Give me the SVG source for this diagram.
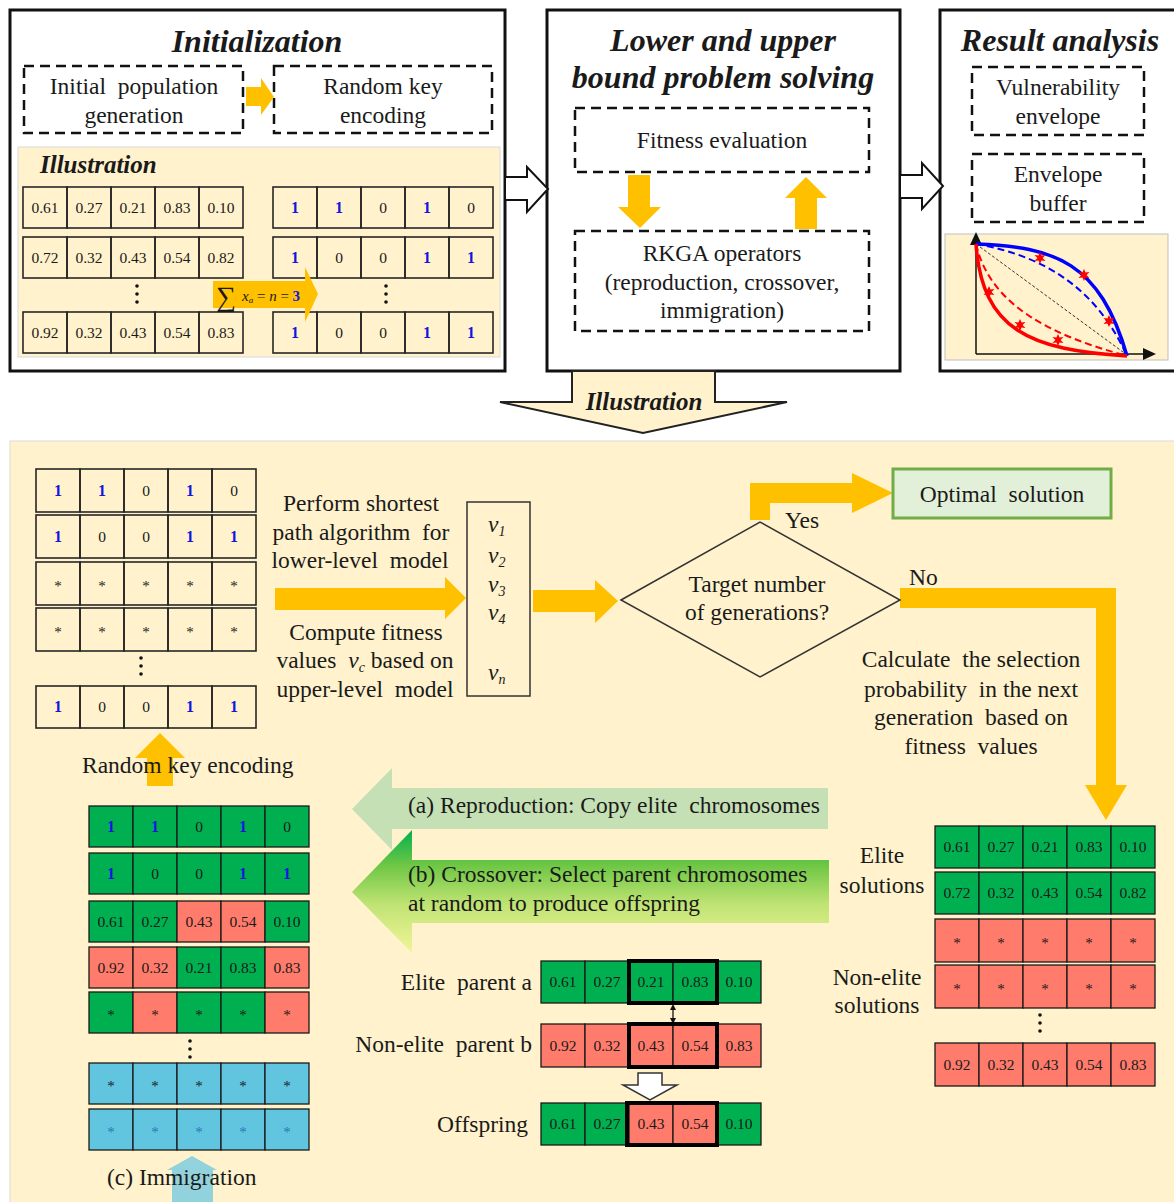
<svg xmlns="http://www.w3.org/2000/svg" width="1174" height="1202" viewBox="0 0 1174 1202">
<defs>
<style>
text{font-family:"Liberation Serif","Times New Roman",serif;fill:#1a1a1a;white-space:pre}
.ttl{font-size:32px;font-weight:bold;font-style:italic;text-anchor:middle}
.ill{font-size:25px;font-weight:bold;font-style:italic}
.b{font-size:23.5px}
.m{text-anchor:middle}
.e{text-anchor:end}
.box{fill:#fff;stroke:#111;stroke-width:3}
.dash{fill:none;stroke:#111;stroke-width:2.5;stroke-dasharray:10 6}
.or{fill:#FFC000}
.c{fill:none;stroke:#262626;stroke-width:1.6}
.g{fill:#00B050;stroke:#1a1a1a;stroke-width:1.3}
.r{fill:#FF7B6B;stroke:#1a1a1a;stroke-width:1.3}
.cy{fill:#61C5E0;stroke:#1a1a1a;stroke-width:1.3}
.n{font-size:15.5px;text-anchor:middle}
.one{font-size:16px;font-weight:bold;fill:#1515E0;text-anchor:middle}
.st{font-size:15px;text-anchor:middle}
.hol{fill:#fff;stroke:#111;stroke-width:2}
.bold{fill:none;stroke:#000;stroke-width:4}
.dot{fill:#111}
</style>
<linearGradient id="gb" x1="0" y1="0" x2="0" y2="1">
<stop offset="0" stop-color="#00B050"/>
<stop offset="0.28" stop-color="#6CC644"/>
<stop offset="0.6" stop-color="#BFE373"/>
<stop offset="1" stop-color="#F2F59A"/>
</linearGradient>
<polygon id="star" points="0,-6 1.6,-2.5 5.5,-3 2.6,0 5.5,3 1.6,2.5 0,6 -1.6,2.5 -5.5,3 -2.6,0 -5.5,-3 -1.6,-2.5" fill="#FF0000"/>
</defs>

<!-- panels -->
<g id="panel-init">
<rect class="box" x="10" y="10" width="495" height="361"/>
<text class="ttl" x="257" y="52">Initialization</text>
<rect class="dash" x="24" y="66" width="219" height="67"/>
<text class="b m" x="134" y="94">Initial  population</text>
<text class="b m" x="134" y="123">generation</text>
<rect class="dash" x="274" y="66" width="218" height="67"/>
<text class="b m" x="383" y="94">Random key</text>
<text class="b m" x="383" y="123">encoding</text>
<rect x="18" y="147" width="482" height="210" fill="#FFF2CC" stroke="#D9D9D9"/>
<text class="ill" x="40" y="173">Illustration</text>
</g>

<g id="grid-init-real">
<rect class="c" x="23" y="187" width="44" height="41"/><rect class="c" x="67" y="187" width="44" height="41"/><rect class="c" x="111" y="187" width="44" height="41"/><rect class="c" x="155" y="187" width="44" height="41"/><rect class="c" x="199" y="187" width="44" height="41"/>
<text class="n" x="45" y="213">0.61</text><text class="n" x="89" y="213">0.27</text><text class="n" x="133" y="213">0.21</text><text class="n" x="177" y="213">0.83</text><text class="n" x="221" y="213">0.10</text>
<rect class="c" x="23" y="237" width="44" height="41"/><rect class="c" x="67" y="237" width="44" height="41"/><rect class="c" x="111" y="237" width="44" height="41"/><rect class="c" x="155" y="237" width="44" height="41"/><rect class="c" x="199" y="237" width="44" height="41"/>
<text class="n" x="45" y="263">0.72</text><text class="n" x="89" y="263">0.32</text><text class="n" x="133" y="263">0.43</text><text class="n" x="177" y="263">0.54</text><text class="n" x="221" y="263">0.82</text>
<circle class="dot" cx="137" cy="286" r="1.8"/><circle class="dot" cx="137" cy="294" r="1.8"/><circle class="dot" cx="137" cy="302" r="1.8"/>
<rect class="c" x="23" y="312" width="44" height="41"/><rect class="c" x="67" y="312" width="44" height="41"/><rect class="c" x="111" y="312" width="44" height="41"/><rect class="c" x="155" y="312" width="44" height="41"/><rect class="c" x="199" y="312" width="44" height="41"/>
<text class="n" x="45" y="338">0.92</text><text class="n" x="89" y="338">0.32</text><text class="n" x="133" y="338">0.43</text><text class="n" x="177" y="338">0.54</text><text class="n" x="221" y="338">0.83</text>
</g>

<g id="grid-init-key">
<rect class="c" x="273" y="187" width="44" height="41"/><rect class="c" x="317" y="187" width="44" height="41"/><rect class="c" x="361" y="187" width="44" height="41"/><rect class="c" x="405" y="187" width="44" height="41"/><rect class="c" x="449" y="187" width="44" height="41"/>
<text class="one" x="295" y="213">1</text><text class="one" x="339" y="213">1</text><text class="n" x="383" y="213">0</text><text class="one" x="427" y="213">1</text><text class="n" x="471" y="213">0</text>
<rect class="c" x="273" y="237" width="44" height="41"/><rect class="c" x="317" y="237" width="44" height="41"/><rect class="c" x="361" y="237" width="44" height="41"/><rect class="c" x="405" y="237" width="44" height="41"/><rect class="c" x="449" y="237" width="44" height="41"/>
<text class="one" x="295" y="263">1</text><text class="n" x="339" y="263">0</text><text class="n" x="383" y="263">0</text><text class="one" x="427" y="263">1</text><text class="one" x="471" y="263">1</text>
<circle class="dot" cx="386" cy="286" r="1.8"/><circle class="dot" cx="386" cy="294" r="1.8"/><circle class="dot" cx="386" cy="302" r="1.8"/>
<rect class="c" x="273" y="312" width="44" height="41"/><rect class="c" x="317" y="312" width="44" height="41"/><rect class="c" x="361" y="312" width="44" height="41"/><rect class="c" x="405" y="312" width="44" height="41"/><rect class="c" x="449" y="312" width="44" height="41"/>
<text class="one" x="295" y="338">1</text><text class="n" x="339" y="338">0</text><text class="n" x="383" y="338">0</text><text class="one" x="427" y="338">1</text><text class="one" x="471" y="338">1</text>
</g>

<g id="panel-solve">
<rect class="box" x="547" y="10" width="353" height="361"/>
<text class="ttl" x="723" y="51">Lower and upper</text>
<text class="ttl" x="723" y="88">bound problem solving</text>
<rect class="dash" x="575" y="108" width="294" height="64"/>
<text class="b m" x="722" y="148">Fitness evaluation</text>
<rect class="dash" x="575" y="231" width="294" height="100"/>
<text class="b m" x="722" y="261">RKGA operators</text>
<text class="b m" x="722" y="290">(reproduction, crossover,</text>
<text class="b m" x="722" y="318">immigration)</text>
</g>

<g id="panel-result">
<rect class="box" x="940" y="10" width="240" height="361"/>
<text class="ttl" x="1060" y="51">Result analysis</text>
<rect class="dash" x="972" y="67" width="172" height="68"/>
<text class="b m" x="1058" y="95">Vulnerability</text>
<text class="b m" x="1058" y="124">envelope</text>
<rect class="dash" x="972" y="154" width="172" height="68"/>
<text class="b m" x="1058" y="182">Envelope</text>
<text class="b m" x="1058" y="211">buffer</text>
<rect x="945" y="234" width="223" height="126" fill="#FFF2CC" stroke="#BFBFBF"/>
<line x1="976" y1="354" x2="976" y2="242" stroke="#111" stroke-width="1.5"/>
<polygon points="976,232 970,245 982,245" fill="#111"/>
<line x1="976" y1="354" x2="1145" y2="354" stroke="#111" stroke-width="1.5"/>
<polygon points="1156,354 1143,348 1143,360" fill="#111"/>
<path d="M976,244 L1127,355" stroke="#333" stroke-width="1" stroke-dasharray="3 2" fill="none"/>
<path d="M976,244 C1040,255 1095,285 1127,356" stroke="#0000FF" stroke-width="2" stroke-dasharray="7 4" fill="none"/>
<path d="M976,244 C1055,247 1100,262 1127,356" stroke="#0000FF" stroke-width="3.5" fill="none"/>
<path d="M976,244 C990,305 1050,335 1127,356" stroke="#FF0000" stroke-width="2" stroke-dasharray="7 4" fill="none"/>
<path d="M976,244 C982,330 1030,350 1127,356" stroke="#FF0000" stroke-width="3.5" fill="none"/>
<use href="#star" x="1040" y="258"/><use href="#star" x="1084" y="275"/><use href="#star" x="1109" y="321"/>
<use href="#star" x="989" y="292"/><use href="#star" x="1020" y="325"/><use href="#star" x="1058" y="340"/>
</g>

<!-- bottom illustration panel -->
<g id="panel-bottom">
<rect x="10" y="441" width="1170" height="770" fill="#FFF2CC" stroke="#D9D9D9"/>
</g>

<g id="connectors">
<polygon class="or" points="246,87 261,87 261,78 274,97 261,115 261,106 246,106"/>
<polygon class="or" points="213,281 305,281 305,267 318,294 305,322 305,308 213,308"/>
<polygon class="hol" points="505,177 527,177 527,167 548,189 527,212 527,200 505,200"/>
<polygon class="hol" points="900,175 922,175 922,163 943,186 922,209 922,198 900,198"/>
<polygon class="or" points="628,175 650,175 650,207 661,207 640,228 618,207 628,207"/>
<polygon class="or" points="795,229 795,198 785,198 806,177 827,198 817,198 817,229"/>
<polygon points="572,371 715,371 715,402 787,402 643,433 500,402 572,402" fill="#FFF2CC" stroke="#222" stroke-width="2"/>
<polygon class="or" points="275,588 445,588 445,577 466,598 445,619 445,610 275,610"/>
<polygon class="or" points="533,590 595,590 595,580 618,601 595,623 595,612 533,612"/>
<polygon class="or" points="750,520 750,483 852,483 852,473 893,493 852,513 852,503 770,503 770,520"/>
<polygon class="or" points="900,588 1116,588 1116,785 1127,785 1106,820 1085,785 1096,785 1096,608 900,608"/>
<polygon class="or" points="160,733 185,758 173,758 173,786 147,786 147,758 135,758"/>
<polygon points="352,809 392,768 392,788 828,788 828,829 392,829 392,850" fill="#C5E0B4"/>
<polygon points="352,892 412,830 412,860 829,860 829,923 412,923 412,953" fill="url(#gb)"/>
<polygon points="192,1156 217,1170 213,1170 213,1202 172,1202 172,1170 167,1170" fill="#92D2DC"/>
<line x1="673" y1="1009" x2="673" y2="1019" stroke="#111" stroke-width="1.3"/>
<polygon points="673,1004 670,1010 676,1010" fill="#111"/>
<polygon points="673,1024 670,1018 676,1018" fill="#111"/>
<polygon points="638,1073 662,1073 662,1085 677,1085 650,1100 623,1085 638,1085" fill="#fff" stroke="#333" stroke-width="1.5"/>
</g>

<g id="labels-top">
<text x="216" y="306" font-size="28">∑</text>
<text x="242" y="301" font-size="15" font-style="italic">x<tspan font-size="9" dy="2">a</tspan><tspan dy="-2" font-style="normal"> = </tspan>n<tspan font-style="normal"> = </tspan><tspan font-style="normal" font-weight="bold" fill="#1515E0">3</tspan></text>
<text class="ill m" x="644" y="410">Illustration</text>
</g>

<g id="grid-bottom-key">
<rect class="c" x="36" y="469" width="44" height="43"/><rect class="c" x="80" y="469" width="44" height="43"/><rect class="c" x="124" y="469" width="44" height="43"/><rect class="c" x="168" y="469" width="44" height="43"/><rect class="c" x="212" y="469" width="44" height="43"/>
<text class="one" x="58" y="496">1</text><text class="one" x="102" y="496">1</text><text class="n" x="146" y="496">0</text><text class="one" x="190" y="496">1</text><text class="n" x="234" y="496">0</text>
<rect class="c" x="36" y="515" width="44" height="43"/><rect class="c" x="80" y="515" width="44" height="43"/><rect class="c" x="124" y="515" width="44" height="43"/><rect class="c" x="168" y="515" width="44" height="43"/><rect class="c" x="212" y="515" width="44" height="43"/>
<text class="one" x="58" y="542">1</text><text class="n" x="102" y="542">0</text><text class="n" x="146" y="542">0</text><text class="one" x="190" y="542">1</text><text class="one" x="234" y="542">1</text>
<rect class="c" x="36" y="562" width="44" height="43"/><rect class="c" x="80" y="562" width="44" height="43"/><rect class="c" x="124" y="562" width="44" height="43"/><rect class="c" x="168" y="562" width="44" height="43"/><rect class="c" x="212" y="562" width="44" height="43"/>
<text class="st" x="58" y="591">*</text><text class="st" x="102" y="591">*</text><text class="st" x="146" y="591">*</text><text class="st" x="190" y="591">*</text><text class="st" x="234" y="591">*</text>
<rect class="c" x="36" y="608" width="44" height="43"/><rect class="c" x="80" y="608" width="44" height="43"/><rect class="c" x="124" y="608" width="44" height="43"/><rect class="c" x="168" y="608" width="44" height="43"/><rect class="c" x="212" y="608" width="44" height="43"/>
<text class="st" x="58" y="637">*</text><text class="st" x="102" y="637">*</text><text class="st" x="146" y="637">*</text><text class="st" x="190" y="637">*</text><text class="st" x="234" y="637">*</text>
<circle class="dot" cx="141" cy="658" r="1.8"/><circle class="dot" cx="141" cy="666" r="1.8"/><circle class="dot" cx="141" cy="674" r="1.8"/>
<rect class="c" x="36" y="686" width="44" height="42"/><rect class="c" x="80" y="686" width="44" height="42"/><rect class="c" x="124" y="686" width="44" height="42"/><rect class="c" x="168" y="686" width="44" height="42"/><rect class="c" x="212" y="686" width="44" height="42"/>
<text class="one" x="58" y="712">1</text><text class="n" x="102" y="712">0</text><text class="n" x="146" y="712">0</text><text class="one" x="190" y="712">1</text><text class="one" x="234" y="712">1</text>
</g>

<g id="fitness-text">
<text class="b m" x="361" y="511">Perform shortest</text>
<text class="b m" x="361" y="540">path algorithm  for</text>
<text class="b m" x="360" y="568">lower-level  model</text>
<text class="b m" x="366" y="640">Compute fitness</text>
<text class="b m" x="365" y="668">values  <tspan font-style="italic">v<tspan font-size="14" dy="4">c</tspan></tspan><tspan dy="-4"> based on</tspan></text>
<text class="b m" x="365" y="697">upper-level  model</text>
</g>

<g id="fitness-values">
<rect x="467" y="502" width="63" height="194" fill="none" stroke="#333" stroke-width="1.5"/>
<text class="b" x="488" y="532" font-style="italic">v<tspan font-size="14" dy="4">1</tspan></text>
<text class="b" x="488" y="563" font-style="italic">v<tspan font-size="14" dy="4">2</tspan></text>
<text class="b" x="488" y="592" font-style="italic">v<tspan font-size="14" dy="4">3</tspan></text>
<text class="b" x="488" y="620" font-style="italic">v<tspan font-size="14" dy="4">4</tspan></text>
<text class="b" x="488" y="680" font-style="italic">v<tspan font-size="14" dy="4">n</tspan></text>
</g>

<g id="decision">
<polygon points="621,600 760,522 900,600 760,677" fill="none" stroke="#333" stroke-width="1.5"/>
<text class="b m" x="757" y="592">Target number</text>
<text class="b m" x="757" y="620">of generations?</text>
<text class="b" x="785" y="528">Yes</text>
<text class="b" x="909" y="585">No</text>
</g>

<g id="optimal">
<rect x="893" y="469" width="218" height="49" fill="#E2F0D9" stroke="#70AD47" stroke-width="3"/>
<text class="b m" x="1002" y="502">Optimal  solution</text>
</g>

<g id="selection-text">
<text class="b m" x="971" y="667">Calculate  the selection</text>
<text class="b m" x="971" y="697">probability  in the next</text>
<text class="b m" x="971" y="725">generation  based on</text>
<text class="b m" x="971" y="754">fitness  values</text>
</g>

<g id="operator-labels">
<text class="b" x="82" y="773">Random key encoding</text>
<text class="b" x="408" y="813">(a) Reproduction: Copy elite  chromosomes</text>
<text class="b" x="408" y="882">(b) Crossover: Select parent chromosomes</text>
<text class="b" x="408" y="911">at random to produce offspring</text>
<text class="b" x="107" y="1185">(c) Immigration</text>
</g>

<g id="grid-next-gen">
<rect class="g" x="89" y="806" width="44" height="41"/><rect class="g" x="133" y="806" width="44" height="41"/><rect class="g" x="177" y="806" width="44" height="41"/><rect class="g" x="221" y="806" width="44" height="41"/><rect class="g" x="265" y="806" width="44" height="41"/>
<text class="one" x="111" y="832">1</text><text class="one" x="155" y="832">1</text><text class="n" x="199" y="832">0</text><text class="one" x="243" y="832">1</text><text class="n" x="287" y="832">0</text>
<rect class="g" x="89" y="853" width="44" height="41"/><rect class="g" x="133" y="853" width="44" height="41"/><rect class="g" x="177" y="853" width="44" height="41"/><rect class="g" x="221" y="853" width="44" height="41"/><rect class="g" x="265" y="853" width="44" height="41"/>
<text class="one" x="111" y="879">1</text><text class="n" x="155" y="879">0</text><text class="n" x="199" y="879">0</text><text class="one" x="243" y="879">1</text><text class="one" x="287" y="879">1</text>
<rect class="g" x="89" y="901" width="44" height="41"/><rect class="g" x="133" y="901" width="44" height="41"/><rect class="r" x="177" y="901" width="44" height="41"/><rect class="r" x="221" y="901" width="44" height="41"/><rect class="g" x="265" y="901" width="44" height="41"/>
<text class="n" x="111" y="927">0.61</text><text class="n" x="155" y="927">0.27</text><text class="n" x="199" y="927">0.43</text><text class="n" x="243" y="927">0.54</text><text class="n" x="287" y="927">0.10</text>
<rect class="r" x="89" y="947" width="44" height="41"/><rect class="r" x="133" y="947" width="44" height="41"/><rect class="g" x="177" y="947" width="44" height="41"/><rect class="g" x="221" y="947" width="44" height="41"/><rect class="r" x="265" y="947" width="44" height="41"/>
<text class="n" x="111" y="973">0.92</text><text class="n" x="155" y="973">0.32</text><text class="n" x="199" y="973">0.21</text><text class="n" x="243" y="973">0.83</text><text class="n" x="287" y="973">0.83</text>
<rect class="g" x="89" y="992" width="44" height="41"/><rect class="r" x="133" y="992" width="44" height="41"/><rect class="g" x="177" y="992" width="44" height="41"/><rect class="g" x="221" y="992" width="44" height="41"/><rect class="r" x="265" y="992" width="44" height="41"/>
<text class="st" x="111" y="1020">*</text><text class="st" x="155" y="1020">*</text><text class="st" x="199" y="1020">*</text><text class="st" x="243" y="1020">*</text><text class="st" x="287" y="1020">*</text>
<circle class="dot" cx="190" cy="1041" r="1.8"/><circle class="dot" cx="190" cy="1049" r="1.8"/><circle class="dot" cx="190" cy="1057" r="1.8"/>
<rect class="cy" x="89" y="1063" width="44" height="41"/><rect class="cy" x="133" y="1063" width="44" height="41"/><rect class="cy" x="177" y="1063" width="44" height="41"/><rect class="cy" x="221" y="1063" width="44" height="41"/><rect class="cy" x="265" y="1063" width="44" height="41"/>
<text class="st" x="111" y="1091">*</text><text class="st" x="155" y="1091">*</text><text class="st" x="199" y="1091">*</text><text class="st" x="243" y="1091">*</text><text class="st" x="287" y="1091">*</text>
<rect class="cy" x="89" y="1109" width="44" height="41"/><rect class="cy" x="133" y="1109" width="44" height="41"/><rect class="cy" x="177" y="1109" width="44" height="41"/><rect class="cy" x="221" y="1109" width="44" height="41"/><rect class="cy" x="265" y="1109" width="44" height="41"/>
<text class="st" x="111" y="1137" style="fill:#2E75B6">*</text><text class="st" x="155" y="1137" style="fill:#2E75B6">*</text><text class="st" x="199" y="1137" style="fill:#2E75B6">*</text><text class="st" x="243" y="1137" style="fill:#2E75B6">*</text><text class="st" x="287" y="1137" style="fill:#2E75B6">*</text>
</g>

<g id="crossover">
<text class="b e" x="532" y="990">Elite  parent a</text>
<text class="b e" x="532" y="1052">Non-elite  parent b</text>
<text class="b e" x="528" y="1132">Offspring</text>
<rect class="g" x="541" y="961" width="44" height="42"/><rect class="g" x="585" y="961" width="44" height="42"/><rect class="g" x="629" y="961" width="44" height="42"/><rect class="g" x="673" y="961" width="44" height="42"/><rect class="g" x="717" y="961" width="44" height="42"/>
<text class="n" x="563" y="987">0.61</text><text class="n" x="607" y="987">0.27</text><text class="n" x="651" y="987">0.21</text><text class="n" x="695" y="987">0.83</text><text class="n" x="739" y="987">0.10</text>
<rect class="bold" x="629" y="961" width="88" height="42"/>
<rect class="r" x="541" y="1024" width="44" height="43"/><rect class="r" x="585" y="1024" width="44" height="43"/><rect class="r" x="629" y="1024" width="44" height="43"/><rect class="r" x="673" y="1024" width="44" height="43"/><rect class="r" x="717" y="1024" width="44" height="43"/>
<text class="n" x="563" y="1051">0.92</text><text class="n" x="607" y="1051">0.32</text><text class="n" x="651" y="1051">0.43</text><text class="n" x="695" y="1051">0.54</text><text class="n" x="739" y="1051">0.83</text>
<rect class="bold" x="629" y="1024" width="88" height="43"/>
<rect class="g" x="541" y="1103" width="44" height="42"/><rect class="g" x="585" y="1103" width="44" height="42"/><rect class="r" x="629" y="1103" width="44" height="42"/><rect class="r" x="673" y="1103" width="44" height="42"/><rect class="g" x="717" y="1103" width="44" height="42"/>
<text class="n" x="563" y="1129">0.61</text><text class="n" x="607" y="1129">0.27</text><text class="n" x="651" y="1129">0.43</text><text class="n" x="695" y="1129">0.54</text><text class="n" x="739" y="1129">0.10</text>
<rect class="bold" x="627" y="1103" width="90" height="42"/>
</g>

<g id="grid-population">
<text class="b m" x="882" y="863">Elite</text>
<text class="b m" x="882" y="893">solutions</text>
<text class="b m" x="877" y="985">Non-elite</text>
<text class="b m" x="877" y="1013">solutions</text>
<rect class="g" x="935" y="826" width="44" height="42"/><rect class="g" x="979" y="826" width="44" height="42"/><rect class="g" x="1023" y="826" width="44" height="42"/><rect class="g" x="1067" y="826" width="44" height="42"/><rect class="g" x="1111" y="826" width="44" height="42"/>
<text class="n" x="957" y="852">0.61</text><text class="n" x="1001" y="852">0.27</text><text class="n" x="1045" y="852">0.21</text><text class="n" x="1089" y="852">0.83</text><text class="n" x="1133" y="852">0.10</text>
<rect class="g" x="935" y="872" width="44" height="42"/><rect class="g" x="979" y="872" width="44" height="42"/><rect class="g" x="1023" y="872" width="44" height="42"/><rect class="g" x="1067" y="872" width="44" height="42"/><rect class="g" x="1111" y="872" width="44" height="42"/>
<text class="n" x="957" y="898">0.72</text><text class="n" x="1001" y="898">0.32</text><text class="n" x="1045" y="898">0.43</text><text class="n" x="1089" y="898">0.54</text><text class="n" x="1133" y="898">0.82</text>
<rect class="r" x="935" y="919" width="44" height="43"/><rect class="r" x="979" y="919" width="44" height="43"/><rect class="r" x="1023" y="919" width="44" height="43"/><rect class="r" x="1067" y="919" width="44" height="43"/><rect class="r" x="1111" y="919" width="44" height="43"/>
<text class="st" x="957" y="948">*</text><text class="st" x="1001" y="948">*</text><text class="st" x="1045" y="948">*</text><text class="st" x="1089" y="948">*</text><text class="st" x="1133" y="948">*</text>
<rect class="r" x="935" y="965" width="44" height="43"/><rect class="r" x="979" y="965" width="44" height="43"/><rect class="r" x="1023" y="965" width="44" height="43"/><rect class="r" x="1067" y="965" width="44" height="43"/><rect class="r" x="1111" y="965" width="44" height="43"/>
<text class="st" x="957" y="994">*</text><text class="st" x="1001" y="994">*</text><text class="st" x="1045" y="994">*</text><text class="st" x="1089" y="994">*</text><text class="st" x="1133" y="994">*</text>
<circle class="dot" cx="1040" cy="1015" r="1.8"/><circle class="dot" cx="1040" cy="1023" r="1.8"/><circle class="dot" cx="1040" cy="1031" r="1.8"/>
<rect class="r" x="935" y="1043" width="44" height="43"/><rect class="r" x="979" y="1043" width="44" height="43"/><rect class="r" x="1023" y="1043" width="44" height="43"/><rect class="r" x="1067" y="1043" width="44" height="43"/><rect class="r" x="1111" y="1043" width="44" height="43"/>
<text class="n" x="957" y="1070">0.92</text><text class="n" x="1001" y="1070">0.32</text><text class="n" x="1045" y="1070">0.43</text><text class="n" x="1089" y="1070">0.54</text><text class="n" x="1133" y="1070">0.83</text>
</g>
</svg>
